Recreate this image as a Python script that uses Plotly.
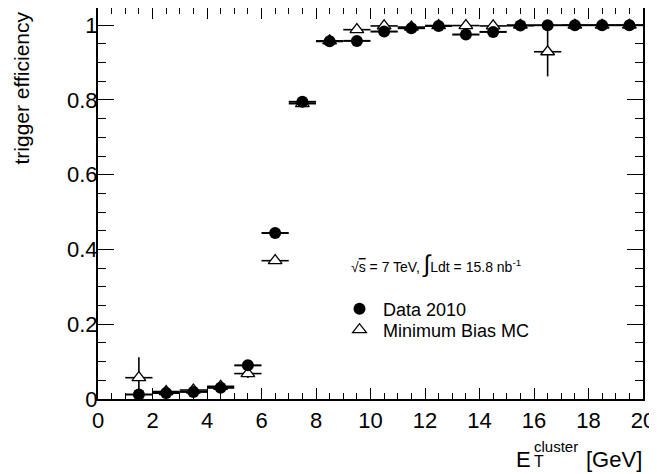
import plotly.graph_objects as go

# ---- data ----
et_bins = [1.5, 2.5, 3.5, 4.5, 5.5, 6.5, 7.5, 8.5, 9.5, 10.5, 11.5, 12.5, 13.5, 14.5, 15.5, 16.5, 17.5, 18.5, 19.5]
bin_half_width = [0.5] * len(et_bins)

data_eff = [0.012, 0.016, 0.019, 0.030, 0.090, 0.444, 0.795, 0.957, 0.958, 0.983, 0.992, 0.998, 0.975, 0.982, 0.999, 1.0, 1.0, 1.0, 1.0]
data_err = [0.006, 0.005, 0.005, 0.008, 0.008, 0.006, 0.006, 0.004, 0.004, 0.003, 0.003, 0.002, 0.004, 0.004, 0.002, 0.002, 0.001, 0.001, 0.001]

mc_eff = [0.057, 0.020, 0.024, 0.034, 0.068, 0.370, 0.790, 0.958, 0.988, 0.998, 0.995, 0.999, 0.999, 0.998, 1.0, 0.929, 1.0, 1.0, 1.0]
mc_err = [0.055, 0.012, 0.012, 0.012, 0.012, 0.006, 0.006, 0.005, 0.004, 0.003, 0.003, 0.002, 0.002, 0.002, 0.002, 0.066, 0.001, 0.001, 0.001]

x_ticks = [0, 2, 4, 6, 8, 10, 12, 14, 16, 18, 20]
y_ticks = [0, 0.2, 0.4, 0.6, 0.8, 1.0]
y_tick_text = ["0", "0.2", "0.4", "0.6", "0.8", "1"]

FONT = "Liberation Sans, Arial, sans-serif"

fig = go.Figure()

fig.add_trace(go.Scatter(
    x=et_bins, y=mc_eff, mode="markers", name="Minimum Bias MC", legend="legend2",
    marker=dict(symbol="triangle-up", size=12, color="white", line=dict(color="black", width=1.3)),
    error_x=dict(type="data", array=bin_half_width, color="black", thickness=1.6, width=0),
    error_y=dict(type="data", array=mc_err, color="black", thickness=1.6, width=0),
))
fig.add_trace(go.Scatter(
    x=et_bins, y=data_eff, mode="markers", name="Data 2010", legend="legend",
    marker=dict(symbol="circle", size=12, color="black", line=dict(width=0)),
    error_x=dict(type="data", array=bin_half_width, color="black", thickness=2, width=0),
    error_y=dict(type="data", array=data_err, color="black", thickness=2, width=0),
))

# page has an 8px body margin: figure is offset by (8, 8) in the window
OFF = 8
W, H = 657 - OFF, 474 - OFF
L, R, T, B = 98 - OFF, 14, 0, 75
pw, ph = W - L - R, H - T - B


def px(xp):
    # xp in window pixels
    return (xp - OFF - L) / pw


def py(yp):
    return (H - B - (yp - OFF)) / ph


annotations = [
    dict(text="trigger efficiency", textangle=-90, x=px(21), y=py(167), xanchor="center", yanchor="bottom",
         xref="paper", yref="paper", showarrow=False, font=dict(size=21, family=FONT, color="black")),
    dict(text="[GeV]", x=px(644), y=py(459), xanchor="right", yanchor="middle",
         xref="paper", yref="paper", showarrow=False, font=dict(size=22, family=FONT, color="black")),
    dict(text="E", x=px(533), y=py(459), xanchor="right", yanchor="middle",
         xref="paper", yref="paper", showarrow=False, font=dict(size=22, family=FONT, color="black")),
    dict(text="T", x=px(532), y=py(461), xanchor="left", yanchor="middle",
         xref="paper", yref="paper", showarrow=False, font=dict(size=16, family=FONT, color="black")),
    dict(text="cluster", x=px(532), y=py(446), xanchor="left", yanchor="middle",
         xref="paper", yref="paper", showarrow=False, font=dict(size=15, family=FONT, color="black")),
    dict(text="√<span style='text-decoration:overline'>s</span> = 7 TeV, <span style='font-size:24px'>∫</span>Ldt = 15.8 nb<sup>-1</sup>",
         x=px(349), y=py(264), xanchor="left", yanchor="middle",
         xref="paper", yref="paper", showarrow=False, font=dict(size=14, family=FONT, color="black")),
]

leg_common = dict(xanchor="left", yanchor="middle", font=dict(size=18, family=FONT, color="black"),
                  bgcolor="rgba(0,0,0,0)", itemwidth=37)

fig.update_layout(
    width=W, height=H,
    margin=dict(l=L, r=R, t=T, b=B, autoexpand=False),
    paper_bgcolor="white", plot_bgcolor="white",
    font=dict(family=FONT, color="black"),
    showlegend=True,
    legend=dict(x=px(336), y=py(309), **leg_common),
    legend2=dict(x=px(336), y=py(330), **leg_common),
    annotations=annotations,
)

fig.update_xaxes(
    range=[0, 20], tickvals=x_ticks, ticktext=[str(v) for v in x_ticks],
    ticks="inside", ticklen=11, tickwidth=1, tickcolor="black",
    showline=True, linecolor="black", linewidth=2, mirror="ticks",
    showgrid=False, zeroline=False, automargin=False, ticklabelstandoff=1,
    tickfont=dict(size=22, family=FONT, color="black"),
    minor=dict(dtick=0.5, ticks="inside", ticklen=6, tickcolor="black", tickwidth=1, showgrid=False),
)
fig.update_yaxes(
    range=[0, 1.046], tickvals=y_ticks, ticktext=y_tick_text,
    ticks="inside", ticklen=16, tickwidth=1, tickcolor="black",
    showline=True, linecolor="black", linewidth=2, mirror="ticks",
    showgrid=False, zeroline=False, automargin=False, ticklabelstandoff=-6,
    tickfont=dict(size=22, family=FONT, color="black"),
    minor=dict(dtick=0.05, ticks="inside", ticklen=8, tickcolor="black", tickwidth=1, showgrid=False),
)

fig.write_html("out.html")
